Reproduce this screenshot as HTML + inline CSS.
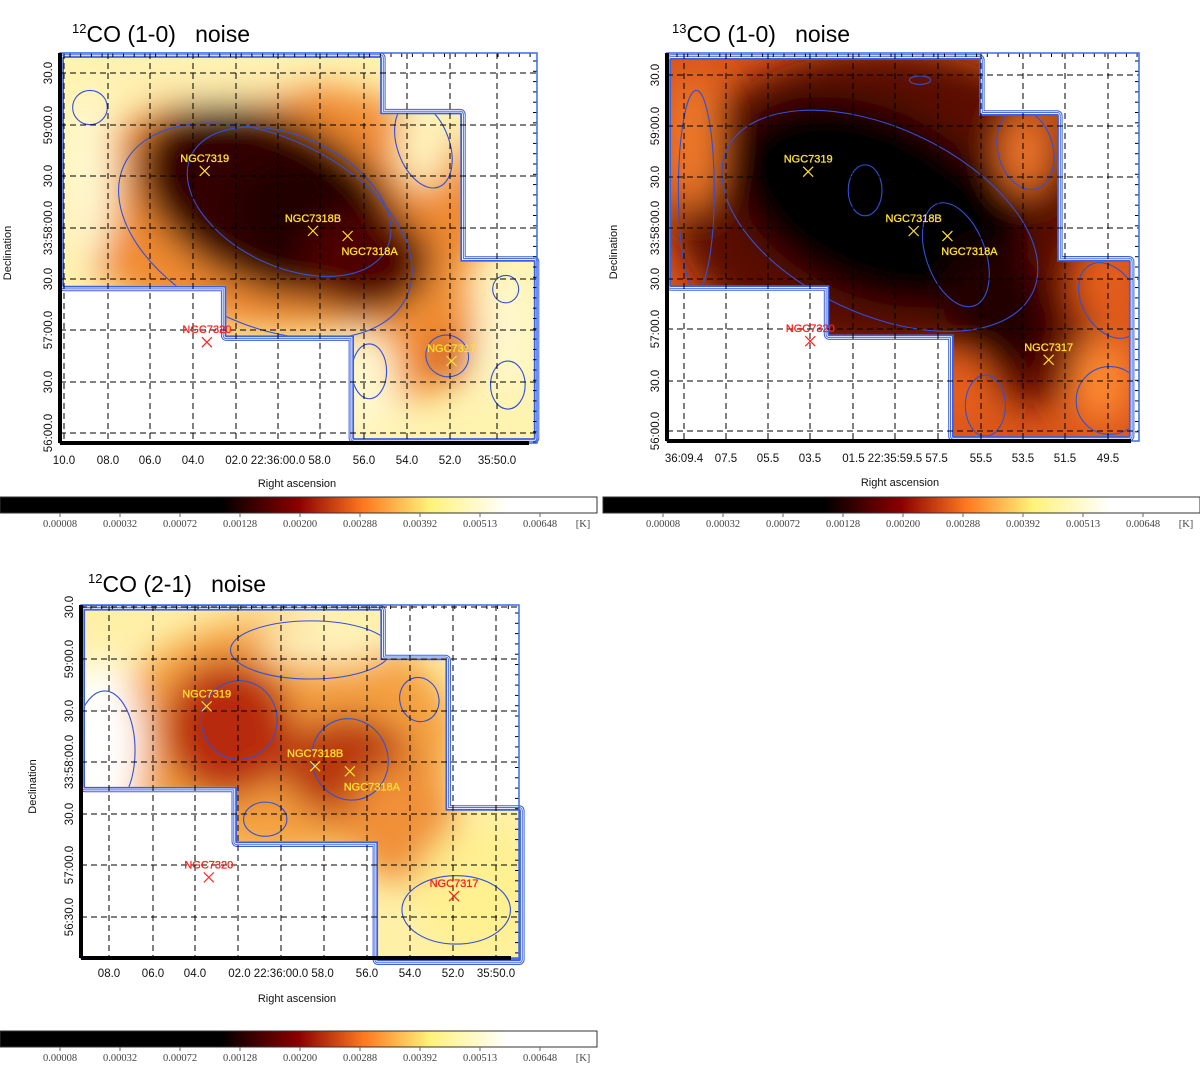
<!DOCTYPE html>
<html><head><meta charset="utf-8"><style>
html,body{margin:0;padding:0;background:#fff;}
body{width:1200px;height:1067px;overflow:hidden;position:relative;font-family:"Liberation Sans",sans-serif;}
svg{position:absolute;left:0;top:0;}
</style></head><body>
<svg id="s" width="1200" height="1067" xmlns="http://www.w3.org/2000/svg">
<defs>
<filter id="blur" x="-30%" y="-30%" width="160%" height="160%"><feGaussianBlur stdDeviation="17"/></filter>
<linearGradient id="cmap" x1="0" x2="1" y1="0" y2="0">
<stop offset="0" stop-color="#000"/><stop offset="0.37" stop-color="#000"/>
<stop offset="0.50" stop-color="#8b0000"/><stop offset="0.61" stop-color="#ff7a20"/>
<stop offset="0.72" stop-color="#fff27a"/><stop offset="0.85" stop-color="#fff"/><stop offset="1" stop-color="#fff"/>
</linearGradient>
</defs>
</svg>
<script>
// ---- data ----
const colorbarTicks = ["0.00008","0.00032","0.00072","0.00128","0.00200","0.00288","0.00392","0.00513","0.00648"];
const galaxyNames = ["NGC7319","NGC7318B","NGC7318A","NGC7320","NGC7317"];
const galaxyRA = [63.5, 58.5, 56.9, 63.4, 52.1];   // seconds after 22:35:00
const galaxyDec = [153, 118, 115, 53, 42];          // arcsec above 33:56:00
const footprintA = [[70,219],[55.4,219],[55.4,186],[51.7,186],[51.7,100],[48.3,100],[48.3,-3],[56.6,-3],[56.6,57],[62.5,57],[62.5,86],[70,86]];
const footprintB = [[69.1,209],[55.5,209],[55.5,180],[52.5,180],[52.5,92],[49.1,92],[49.1,5],[55.6,5],[55.6,74],[62.1,74],[62.1,106],[69.1,106]];
// blobs: [ra, dec, rRA(s), rDec("), angle, color]
const blobs1 = [[60,132,10,72,0,"#f08a30"],[54,65,3,45,0,"#f29035"],[60.5,135,6.5,50,25,"#300000"],[58.2,122,4,35,25,"#200000"],[56,100,3,30,0,"#500000"],[52.2,44,1,12,0,"#c84a12"],[68.8,150,1.2,50,0,"#fff8d0"],[53.4,168,1.2,25,0,"#fff6c0"],[56,30,1.4,30,0,"#fff8d0"],[49.6,60,1.2,35,0,"#fff8d0"],[64,205,5,12,0,"#fff0b0"]];
const blobs2 = [[60,135,10,90,0,"#5a0800"],[53,60,3,45,0,"#6a0a00"],[60.5,135,7,55,25,"#000"],[57,118,4,45,28,"#000"],[54.5,72,2.5,40,-20,"#200000"],[68.9,170,1.2,40,0,"#f07a2a"],[53.2,165,1.2,25,0,"#f0752a"],[49.6,30,1.4,25,0,"#ff8a30"],[56,25,1.3,20,0,"#e8601e"],[49.7,85,1.2,20,0,"#e8601e"]];
const blobs3 = [[60,135,8,70,0,"#f4a040"],[62.5,140,3,40,0,"#b82a08"],[57,118,3,30,0,"#b83808"],[54.5,85,2.5,35,0,"#f09038"],[68.5,130,2,50,0,"#ffffff"],[51,45,2.8,38,0,"#fff090"],[58,190,3,12,0,"#fff6c0"]];
const contours1 = [[59.6,135,5,38,25],[60.7,118,7.2,55,25],[68.8,190,0.8,10,0],[53.4,168,1.2,26,-20],[49.6,84,0.6,8,0],[55.9,36,0.8,16,0],[49.5,28,0.8,14,0],[52.3,45,1.0,12,30]];
const contours2 = [[60.8,142,0.8,15,0],[56.5,104,1.4,32,-20],[60.1,124,8,55,25],[68.8,142,0.85,59,0],[53.2,166,1.3,24,-15],[49.2,77,1.3,24,-30],[49.2,18,1.6,20,0],[55.1,15,0.95,18,0],[58.2,207,0.5,2.5,0]];
const contours3 = [[62.0,145,1.75,23,0],[56.9,122,1.75,24,-20],[68.2,127,1.4,35,0],[58.7,186,3.7,17,0],[53.7,157,0.9,13,-15],[60.8,87,1.0,10,0],[52,34,2.5,20,0]];

const S = document.getElementById('s');
const NS = "http://www.w3.org/2000/svg";
function mk(tag, attrs, parent){const e=document.createElementNS(NS,tag);for(const k in attrs)e.setAttribute(k,attrs[k]);(parent||S).appendChild(e);return e;}
function txt(x,y,t,size,fill,anchor,extra,parent){const e=mk('text',Object.assign({x:x,y:y,'font-size':size,fill:fill,'text-anchor':anchor||'middle'},extra||{}),parent);e.textContent=t;return e;}

const panels = [
 {name:"co10", fx:60, fy:53, fw:477, fh:390, px70:64, kx:21.65, y0:433, ky:1.713, fp:footprintA, blobs:blobs1, cont:contours1, base:"#fff3b0",
  title:["12","CO (1-0)\u00a0\u00a0\u00a0noise"], tx:72, ty:42,
  vlines:[64,108,150,193,236,278,320,364,407,450,497],
  xlab:[[64,"10.0"],[108,"08.0"],[150,"06.0"],[193,"04.0"],[278,"02.0 22:36:00.0 58.0"],[364,"56.0"],[407,"54.0"],[450,"52.0"],[497,"35:50.0"]], xly:464,
  ylab:[[73,"30.0"],[125,"59:00.0"],[176,"30.0"],[228,"33:58:00.0"],[279,"30.0"],[330,"57:00.0"],[382,"30.0"],[433,"56:00.0"]], ylx:52,
  decx:11, raX:297, raY:487, cb:[0,497], galCol:["#ffe030","#ffe030","#ffe030","#ff2020","#ffe030"]},
 {name:"13co10", fx:667, fy:53, fw:472, fh:388, px70:671, kx:21.1, y0:431, ky:1.695, fp:footprintA, blobs:blobs2, cont:contours2, base:"#d9561a",
  title:["13","CO (1-0)\u00a0\u00a0\u00a0noise"], tx:672, ty:42,
  vlines:[684,726,768,810,853,895,938,981,1023,1065,1108],
  xlab:[[684,"36:09.4"],[726,"07.5"],[768,"05.5"],[810,"03.5"],[895,"01.5 22:35:59.5 57.5"],[981,"55.5"],[1023,"53.5"],[1065,"51.5"],[1108,"49.5"]], xly:462,
  ylab:[[75,"30.0"],[126,"59:00.0"],[177,"30.0"],[228,"33:58:00.0"],[279,"30.0"],[329,"57:00.0"],[381,"30.0"],[431,"56:00.0"]], ylx:659,
  decx:617, raX:900, raY:486, cb:[603,497], galCol:["#ffe030","#ffe030","#ffe030","#ff2020","#ffe030"]},
 {name:"co21", fx:81, fy:605, fw:438, fh:353, px70:65.6, kx:21.7, y0:968, ky:1.71, fp:footprintB, blobs:blobs3, cont:contours3, base:"#fff0a8",
  title:["12","CO (2-1)\u00a0\u00a0\u00a0noise"], tx:88, ty:592,
  vlines:[109,153,195,238,281,324,367,410,453,496],
  xlab:[[109,"08.0"],[153,"06.0"],[195,"04.0"],[281,"02.0 22:36:00.0 58.0"],[367,"56.0"],[410,"54.0"],[453,"52.0"],[496,"35:50.0"]], xly:977,
  ylab:[[607,"30.0"],[659,"59:00.0"],[711,"30.0"],[762,"33:58:00.0"],[814,"30.0"],[865,"57:00.0"],[917,"56:30.0"]], ylx:73,
  decx:36, raX:297, raY:1002, cb:[0,1031], galCol:["#ffe030","#ffe030","#ffe030","#ff2020","#ff2020"]}
];

panels.forEach((P,pi)=>{
  const X = ra => P.px70 + (70-ra)*P.kx;
  const Y = d => P.y0 - d*P.ky;
  const g = mk('g',{});
  
  
  const t = mk('text',{x:P.tx,y:P.ty,'font-size':23,fill:'#000'},g);
  
  
  const sup = mk('tspan',{'font-size':13,dy:-9},t); sup.textContent=P.title[0];
  const rest = mk('tspan',{dy:9},t); rest.textContent=P.title[1];
  const d = P.fp.map((p,i)=>(i?'L':'M')+X(p[0]).toFixed(1)+' '+Y(p[1]).toFixed(1)).join(' ')+'Z';
  const cid='clip'+pi;
  const cp = mk('clipPath',{id:cid},g); mk('path',{d:d},cp);
  [[11,'#3a5fe0'],[9,'#fff'],[7.4,'#4a6ee8'],[5.4,'#fff'],[3.6,'#3a5fe0']].forEach(s=>mk('path',{d:d,fill:'none',stroke:s[1],'stroke-width':s[0],'stroke-linejoin':'round'},g));
  const hm = mk('g',{'clip-path':'url(#'+cid+')'},g);
  
  
  mk('rect',{x:P.fx,y:P.fy,width:P.fw,height:P.fh,fill:P.base},hm);
  const bg = mk('g',{filter:'url(#blur)'},hm);
  P.blobs.forEach(b=>{
    const e=mk('ellipse',{cx:X(b[0]),cy:Y(b[1]),rx:b[2]*P.kx,ry:b[3]*P.ky,fill:b[5],transform:'rotate('+b[4]+' '+X(b[0])+' '+Y(b[1])+')'},bg);
    
    
  });
  P.cont.forEach(c=>{
    const e=mk('ellipse',{cx:X(c[0]),cy:Y(c[1]),rx:c[2]*P.kx,ry:c[3]*P.ky,fill:'none',stroke:'#3050d8','stroke-width':1.1,transform:'rotate('+c[4]+' '+X(c[0])+' '+Y(c[1])+')'},hm);
    
    
  });
  P.vlines.forEach(x=>mk('line',{x1:x,x2:x,y1:P.fy,y2:P.fy+P.fh,stroke:'#000','stroke-width':1,'stroke-dasharray':'6,4'},g));
  P.ylab.forEach(l=>mk('line',{x1:P.fx,x2:P.fx+P.fw,y1:l[0],y2:l[0],stroke:'#000','stroke-width':1,'stroke-dasharray':'6,4'},g));
  for(let x=P.fx+10;x<P.fx+P.fw;x+=10.7){mk('line',{x1:x,x2:x,y1:P.fy,y2:P.fy+4,stroke:'#000','stroke-width':1},g);}
  for(let y=P.fy+8;y<P.fy+P.fh;y+=10.3){mk('line',{x1:P.fx+P.fw-4,x2:P.fx+P.fw,y1:y,y2:y,stroke:'#000','stroke-width':1},g);}
  mk('rect',{x:P.fx,y:P.fy,width:P.fw,height:P.fh,fill:'none',stroke:'#3a6cf0','stroke-width':1.5},g);
  mk('line',{x1:P.fx,x2:P.fx,y1:P.fy,y2:P.fy+P.fh,stroke:'#000','stroke-width':4},g);
  mk('line',{x1:P.fx,x2:P.fx+P.fw-8,y1:P.fy+P.fh,y2:P.fy+P.fh,stroke:'#000','stroke-width':4},g);
  galaxyNames.forEach((n,i)=>{
    const x=X(galaxyRA[i]), y=Y(galaxyDec[i]), c=P.galCol[i];
    const m=mk('path',{d:`M${x-5} ${y-5}L${x+5} ${y+5}M${x+5} ${y-5}L${x-5} ${y+5}`,stroke:c,'stroke-width':1.2},g);
    
    
    const lx = n==="NGC7318A"? x+22 : x;
    const ly = n==="NGC7318A"? y+19 : y-9;
    const tl=txt(lx,ly,n,11,c,'middle',{stroke:c,'stroke-width':0.3},g);
    
    
  });
  P.xlab.forEach(l=>{const e=txt(l[0],P.xly,l[1],11.5,'#111','middle',{},g);
    
    });
  P.ylab.forEach(l=>{const e=txt(0,0,l[1],11.5,'#111','middle',{transform:`translate(${P.ylx},${l[0]}) rotate(-90)`},g);
    
    });
  const dl=txt(0,0,'Declination',11,'#111','middle',{transform:`translate(${P.decx},${(P.fy+P.fy+P.fh)/2+5}) rotate(-90)`},g);
  
  
  const rl=txt(P.raX,P.raY,'Right ascension',11,'#111','middle',{},g);
  
  
  const cx=P.cb[0], cy=P.cb[1];
  const cb=mk('rect',{x:cx,y:cy,width:597,height:16,fill:'url(#cmap)',stroke:'#333','stroke-width':1},g);
  
  
  colorbarTicks.forEach((v,i)=>{
    const x=cx+60+i*60;
    mk('line',{x1:x,x2:x,y1:cy+16,y2:cy+20,stroke:'#666','stroke-width':1},g);
    const e=txt(x,cy+30,v,10.5,'#444','middle',{'font-family':'"Liberation Serif",serif'},g);
    
    
  });
  const k=txt(cx+583,cy+30,'[K]',10.5,'#444','middle',{'font-family':'"Liberation Serif",serif'},g);
  
  
});
</script>
</body></html>
